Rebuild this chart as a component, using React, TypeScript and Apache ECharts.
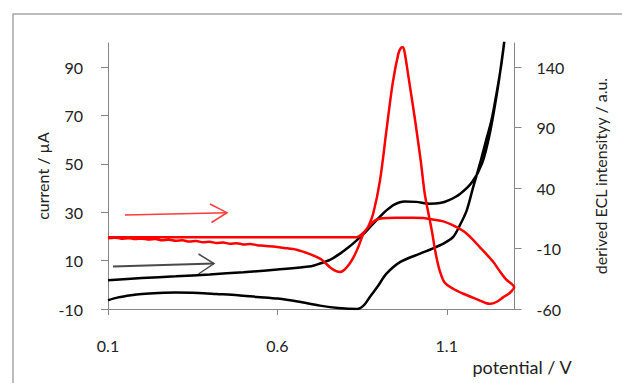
import React, { useEffect, useRef } from "react";
import * as echarts from "echarts";

const xTicks = [0.1, 0.6, 1.1];
const leftTicks = [-10, 10, 30, 50, 70, 90];
const rightTicks = [-60, -10, 40, 90, 140];

// Black CV loop: current / µA vs potential / V (left axis)
const blackPotential = [
  0.1, 0.2, 0.3, 0.4, 0.5, 0.6, 0.7, 0.726, 0.755, 0.785, 0.81, 0.834, 0.86, 0.883, 0.905, 0.922, 0.945, 0.975,
  1.01, 1.05, 1.08, 1.105, 1.14, 1.175, 1.204, 1.227, 1.251, 1.269, 1.278,
  1.278, 1.262, 1.248, 1.232, 1.216, 1.198, 1.178, 1.159, 1.14, 1.119, 1.09, 1.058, 1.021, 0.962, 0.922, 0.897,
  0.873, 0.855, 0.835, 0.78, 0.726, 0.66, 0.601, 0.54, 0.484, 0.42, 0.367, 0.3, 0.25, 0.2, 0.168, 0.13, 0.1,
];
const blackCurrent = [
  1.9, 2.8, 3.5, 4.3, 5.2, 6.3, 7.7, 8.8, 10.3, 12.9, 15.5, 18.4, 21.8, 25.3, 28.5, 30.8, 33.2, 34.5,
  34.3, 33.5, 33.8, 34.9, 37.7, 42.5, 50.1, 62.5, 81.7, 99.7, 110,
  110, 92, 80, 68, 59.7, 50.1, 40.4, 30.8, 25, 19.8, 17, 15, 12.9, 9.4, 4.6, -0.5,
  -5, -8.5, -10, -9.6, -8.6, -6.9, -5.7, -5, -4.3, -3.8, -3.4, -3.2, -3.4, -3.8, -4.3, -5.2, -6.4,
];

// Red loop: derived ECL intensity / a.u. vs potential / V (right axis)
const redPotential = [
  0.1, 0.3, 0.5, 0.7, 0.834, 0.85, 0.873, 0.89, 0.91, 0.95, 1.0, 1.031, 1.06, 1.09, 1.12, 1.149, 1.175, 1.198,
  1.215, 1.237, 1.257, 1.275, 1.299,
  1.285, 1.267, 1.248, 1.228, 1.215, 1.198, 1.149, 1.119, 1.093, 1.079, 1.071, 1.064, 1.057, 1.05, 1.035, 1.023,
  1.005, 0.987, 0.977, 0.971, 0.965, 0.957, 0.94, 0.923, 0.903, 0.883, 0.868, 0.854, 0.84, 0.825, 0.812, 0.798,
  0.785, 0.772, 0.755, 0.74, 0.726, 0.7, 0.68, 0.657, 0.62, 0.588, 0.56, 0.54, 0.52, 0.5, 0.48, 0.46, 0.44,
  0.42, 0.4, 0.38, 0.36, 0.34, 0.32, 0.3, 0.28, 0.26, 0.24, 0.22, 0.2, 0.18, 0.16, 0.14, 0.12, 0.1,
];
const redEcl = [
  -0.6, -0.6, -0.6, -0.6, -0.6, 2, 9.1, 13.5, 15, 15.5, 15.5, 15.2, 14, 12.5, 9, 4.5, -2, -9,
  -14, -21, -29, -35.5, -42,
  -47, -50.2, -54, -55.7, -55, -53, -47.4, -43.3, -37.8, -28, -19, -8.8, 3, 13.3, 35.4, 63,
  99, 132, 150, 156.5, 156, 151, 126, 90, 46.4, 19, 8, 2.3, -8, -17.1, -23, -27.5,
  -29.5, -28.5, -25.4, -21.5, -18.4, -15, -13, -11, -9.5, -8.4, -7.6, -7.2, -6.2, -6.6, -5.6, -6.0, -5.0,
  -5.4, -4.4, -4.8, -3.8, -4.2, -3.2, -3.6, -2.8, -3.2, -2.2, -2.6, -1.8, -2.2, -1.4, -1.8, -1.0, -1.4,
];

const FONT = "Lato, 'Open Sans', sans-serif";
const TEXT = "#222222";
const AXIS = "#868686";

export default function App() {
  const ref = useRef<HTMLDivElement>(null);
  useEffect(() => {
    const chart = echarts.init(ref.current!, null, { renderer: "svg" });
    const blackData = blackPotential.map((x, i) => [x, blackCurrent[i]]);
    const redData = redPotential.map((x, i) => [x, redEcl[i]]);
    chart.setOption({
      animation: false,
      backgroundColor: "#ffffff",
      grid: { left: 108, right: 107.5, top: 43, bottom: 74, containLabel: false, outerBoundsMode: "none" },
      xAxis: {
        type: "value",
        min: 0.1,
        max: 1.3,
        name: "potential / V",
        nameLocation: "end",
        nameGap: -42,
        nameMoveOverlap: false,
        nameTextStyle: {
          fontFamily: FONT, fontSize: 18, color: TEXT, align: "left",
          verticalAlign: "top", padding: [49, 0, 0, 0], lineHeight: 18,
        },
        axisLine: { onZero: false, lineStyle: { color: AXIS, width: 1 } },
        axisTick: { show: true, length: 6, customValues: xTicks, lineStyle: { color: AXIS } },
        axisLabel: { customValues: xTicks, margin: 28, fontFamily: FONT, fontSize: 16, color: TEXT },
        splitLine: { show: false },
      },
      yAxis: [
        {
          type: "value",
          position: "left",
          min: -10,
          max: 100,
          name: "current / µA",
          nameLocation: "middle",
          nameGap: 58,
          nameMoveOverlap: false,
          nameTextStyle: { fontFamily: FONT, fontSize: 16, color: TEXT },
          axisLine: { show: true, onZero: false, lineStyle: { color: AXIS, width: 1 } },
          axisTick: { show: true, length: 7, customValues: leftTicks, lineStyle: { color: AXIS } },
          axisLabel: { customValues: leftTicks, margin: 25, fontFamily: FONT, fontSize: 16, color: TEXT },
          splitLine: { show: false },
        },
        {
          type: "value",
          position: "right",
          min: -60,
          max: 160,
          name: "derived ECL intensityy / a.u.",
          nameLocation: "middle",
          nameRotate: 90,
          nameGap: 78,
          nameMoveOverlap: false,
          nameTextStyle: { fontFamily: FONT, fontSize: 16, color: TEXT },
          axisLine: { show: true, onZero: false, lineStyle: { color: AXIS, width: 1 } },
          axisTick: { show: true, length: 7, customValues: rightTicks, lineStyle: { color: AXIS } },
          axisLabel: { customValues: rightTicks, margin: 22, fontFamily: FONT, fontSize: 16, color: TEXT },
          splitLine: { show: false },
        },
      ],
      series: [
        {
          name: "current",
          type: "line",
          yAxisIndex: 0,
          data: blackData,
          showSymbol: false,
          smooth: 0.3,
          clip: true,
          lineStyle: { color: "#000000", width: 2.5 },
        },
        {
          name: "derived ECL intensity",
          type: "line",
          yAxisIndex: 1,
          data: redData,
          showSymbol: false,
          smooth: 0.3,
          clip: true,
          lineStyle: { color: "#ff0000", width: 2.5 },
        },
      ],
      graphic: [
        {
          type: "rect",
          silent: true,
          shape: { x: 13, y: 14, width: 700, height: 500 },
          style: { fill: "none", stroke: "#a6a6a6", lineWidth: 1.5 },
        },
        {
          type: "polyline",
          silent: true,
          shape: { points: [[125, 215], [227, 212.7]] },
          style: { stroke: "#ff3b3b", lineWidth: 1.5, fill: "none" },
        },
        {
          type: "polyline",
          silent: true,
          shape: { points: [[210, 204], [227, 212.7], [211.5, 222.5]] },
          style: { stroke: "#ff3b3b", lineWidth: 1.5, fill: "none" },
        },
        {
          type: "polyline",
          silent: true,
          shape: { points: [[113, 266.5], [214, 263.5]] },
          style: { stroke: "#4a4a4a", lineWidth: 2, fill: "none" },
        },
        {
          type: "polyline",
          silent: true,
          shape: { points: [[198.5, 254], [214, 263.5], [198.5, 274]] },
          style: { stroke: "#4a4a4a", lineWidth: 1.5, fill: "none" },
        },
      ],
    });
    return () => chart.dispose();
  }, []);
  return <div ref={ref} style={{ position: "fixed", left: 0, top: 0, width: 622, height: 383 }} />;
}
